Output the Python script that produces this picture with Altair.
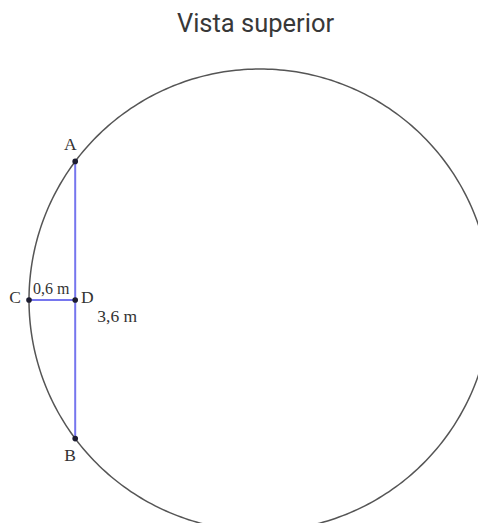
import altair as alt
import pandas as pd
import numpy as np

# ---- data (metres) ----
title_text = ["Vista superior"]
circle_center_x = [0.0]
circle_center_y = [0.0]
circle_radius = [3.0]

point_names = ["A", "B", "C", "D"]
point_x = [-2.4, -2.4, -3.0, -2.4]
point_y = [1.8, -1.8, 0.0, 0.0]

seg_names = ["AB", "CD"]
seg_x = [-2.4, -3.0]
seg_y = [1.8, 0.0]
seg_x2 = [-2.4, -2.4]
seg_y2 = [-1.8, 0.0]
seg_labels = ["3,6 m", "0,6 m"]

# ---- tables ----
ang = np.radians(np.arange(0, 361, 1))
circle_df = pd.DataFrame({
    "x": circle_center_x[0] + circle_radius[0] * np.cos(ang),
    "y": circle_center_y[0] + circle_radius[0] * np.sin(ang),
    "o": np.arange(len(ang)),
})
points_df = pd.DataFrame({"name": point_names, "x": point_x, "y": point_y})
seg_df = pd.DataFrame({"seg": seg_names, "x": seg_x, "y": seg_y,
                       "x2": seg_x2, "y2": seg_y2, "label": seg_labels})
seg_df["mx"] = (seg_df["x"] + seg_df["x2"]) / 2
seg_df["my"] = (seg_df["y"] + seg_df["y2"]) / 2

W, H = 470, 515
xs = alt.Scale(domain=[-3.2727, 2.8312], nice=False, zero=False)
ys = alt.Scale(domain=[-2.8961, 3.7922], nice=False, zero=False)

serif = "Liberation Serif"
txt_color = "#333333"

circle = alt.Chart(circle_df).mark_line(color="#555555", strokeWidth=1.5).encode(
    x=alt.X("x:Q", scale=xs, axis=None),
    y=alt.Y("y:Q", scale=ys, axis=None),
    order="o:Q",
)

segs = alt.Chart(seg_df).mark_rule(color="#7676ee", strokeWidth=2).encode(
    x=alt.X("x:Q", scale=xs, axis=None),
    y=alt.Y("y:Q", scale=ys, axis=None),
    x2="x2:Q",
    y2="y2:Q",
)

pts = alt.Chart(points_df).mark_circle(color="#1c1c30", size=32, opacity=1).encode(
    x=alt.X("x:Q", scale=xs, axis=None),
    y=alt.Y("y:Q", scale=ys, axis=None),
)

point_offsets = {"A": (-5, -16), "B": (-5, 17), "C": (-14, -2), "D": (12, -2)}
point_labels = []
for n in point_names:
    dx, dy = point_offsets[n]
    point_labels.append(
        alt.Chart(points_df).transform_filter(alt.datum.name == n)
        .mark_text(font=serif, fontSize=17.5, color=txt_color, dx=dx, dy=dy,
                   align="center", baseline="middle")
        .encode(x=alt.X("x:Q", scale=xs, axis=None),
                y=alt.Y("y:Q", scale=ys, axis=None),
                text="name:N")
    )

seg_offsets = {"AB": (42, 17), "CD": (-1, -11)}
seg_sizes = {"AB": 17.5, "CD": 16}
seg_texts = []
for s in seg_names:
    dx, dy = seg_offsets[s]
    seg_texts.append(
        alt.Chart(seg_df).transform_filter(alt.datum.seg == s)
        .mark_text(font=serif, fontSize=seg_sizes[s], color=txt_color, dx=dx, dy=dy,
                   align="center", baseline="middle")
        .encode(x=alt.X("mx:Q", scale=xs, axis=None),
                y=alt.Y("my:Q", scale=ys, axis=None),
                text="label:N")
    )

title = alt.Chart(pd.DataFrame({"t": title_text})).mark_text(
    font="Roboto", fontSize=25.5, color="#383838", align="center",
    baseline="alphabetic"
).encode(x=alt.value(247.5), y=alt.value(23.7), text="t:N")

chart = alt.layer(circle, segs, pts, *point_labels, *seg_texts, title).properties(
    width=W, height=H,
    autosize=alt.AutoSizeParams(type="none"),
    padding=0,
).configure_view(stroke=None)

chart.save("out.html", embed_options={"renderer": "svg", "actions": False})
